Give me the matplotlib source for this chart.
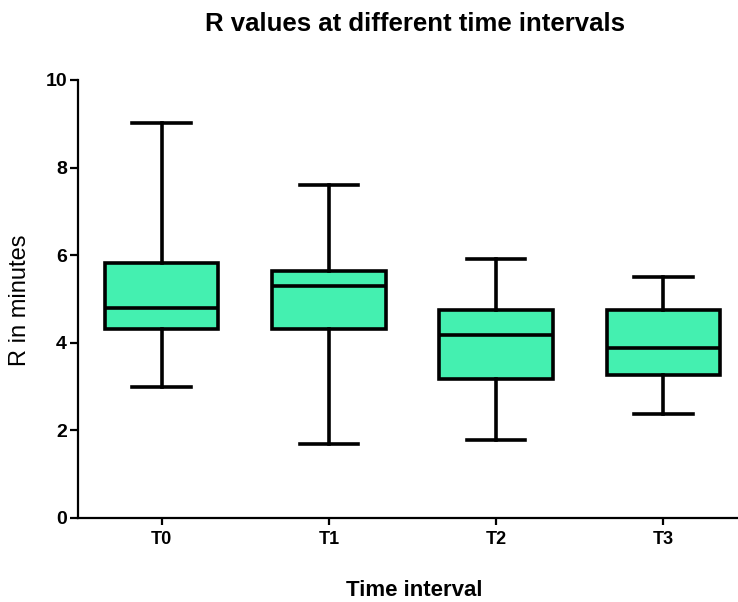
import matplotlib.pyplot as plt

# data
groups = ['T0', 'T1', 'T2', 'T3']
whislo = [3.0, 1.7, 1.77, 2.38]
q1 = [4.32, 4.32, 3.18, 3.27]
med = [4.8, 5.3, 4.17, 3.89]
q3 = [5.82, 5.65, 4.74, 4.74]
whishi = [9.02, 7.6, 5.91, 5.51]

plt.rcParams['font.family'] = ['Liberation Sans', 'DejaVu Sans']

fig = plt.figure(figsize=(7.38, 6.02), dpi=100)
ax = fig.add_axes([78 / 738, 84 / 602, 669 / 738, 438 / 602])

stats = []
for i, g in enumerate(groups):
    stats.append(dict(label=g, whislo=whislo[i], q1=q1[i], med=med[i],
                      q3=q3[i], whishi=whishi[i], fliers=[]))

lw = 2.6
ax.bxp(stats, positions=range(1, len(groups) + 1), widths=0.68,
       patch_artist=True, showfliers=False,
       boxprops=dict(facecolor='#44f0b0', edgecolor='black', linewidth=lw),
       medianprops=dict(color='black', linewidth=lw),
       whiskerprops=dict(color='black', linewidth=lw),
       capprops=dict(color='black', linewidth=lw),
       capwidths=0.35)

ax.set_xlim(0.5, 4.5)
ax.set_ylim(0, 10)
ax.set_yticks([0, 2, 4, 6, 8, 10])
ax.spines['top'].set_visible(False)
ax.spines['right'].set_visible(False)
ax.spines['left'].set_linewidth(1.6)
ax.spines['bottom'].set_linewidth(1.6)
ax.tick_params(axis='y', length=6, width=1.6, labelsize=14, pad=2)
ax.tick_params(axis='x', length=5, width=1.6, labelsize=13, pad=4)
for t in ax.get_xticklabels() + ax.get_yticklabels():
    t.set_fontweight('bold')

fig.text(20 / 738, 1 - 300 / 602, 'R in minutes', fontsize=17,
         rotation=90, ha='center', va='center')
fig.text(414 / 738, 1 - 590 / 602, 'Time interval', fontsize=16,
         fontweight='bold', ha='center', va='center')
fig.text(415 / 738, 1 - 24 / 602, 'R values at different time intervals',
         fontsize=18.5, fontweight='bold', ha='center', va='center')

fig.savefig('out.png', dpi=100)
